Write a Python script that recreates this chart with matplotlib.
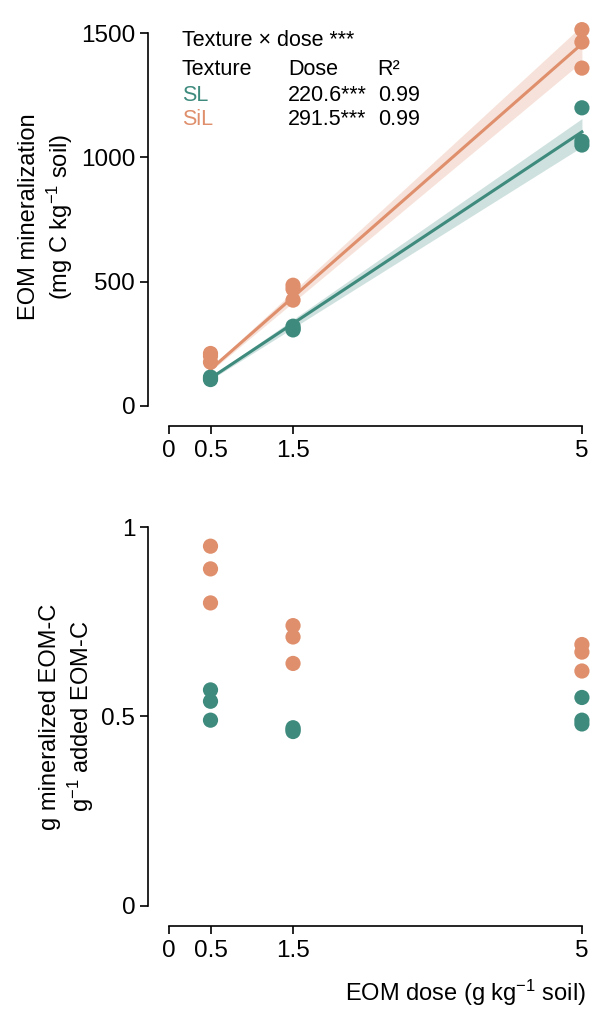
import numpy as np
import matplotlib.pyplot as plt

plt.rcParams['font.family'] = ['Liberation Sans', 'DejaVu Sans']
plt.rcParams['font.size'] = 15.5
plt.rcParams['mathtext.default'] = 'regular'

SL_COL = '#3e8b7e'
SIL_COL = '#df8f6c'

dose = [0.5, 0.5, 0.5, 1.5, 1.5, 1.5, 5, 5, 5]
min_sl = [110, 115, 105, 310, 320, 305, 1200, 1065, 1050]
min_sil = [210, 200, 175, 485, 470, 425, 1515, 1465, 1360]
eff_sl = [0.57, 0.54, 0.49, 0.47, 0.46, 0.465, 0.55, 0.49, 0.48]
eff_sil = [0.95, 0.89, 0.80, 0.74, 0.71, 0.64, 0.69, 0.67, 0.62]
slope_sl = 220.6
slope_sil = 291.5

fig = plt.figure(figsize=(5.98, 10.14), dpi=100)
ax1 = fig.add_axes([0.283, 0.60, 0.697, 0.372])
ax2 = fig.add_axes([0.283, 0.107, 0.697, 0.373])


def style(ax):
    for s in ['top', 'right']:
        ax.spines[s].set_visible(False)
    ax.spines['left'].set_position(('outward', 15))
    ax.spines['bottom'].set_position(('outward', 15))
    ax.set_xlim(0, 5.05)
    ax.spines['bottom'].set_bounds(0, 5)
    ax.set_xticks([0, 0.5, 1.5, 5])
    ax.set_xticklabels(['0', '0.5', '1.5', '5'])
    ax.tick_params(length=6, width=1.2, labelsize=17.5)
    for s in ['left', 'bottom']:
        ax.spines[s].set_linewidth(1.2)


x = np.array(dose, float)
xs = np.linspace(0.5, 5, 50)
for y, slope, c in [(min_sl, slope_sl, SL_COL), (min_sil, slope_sil, SIL_COL)]:
    y = np.array(y, float)
    b = (x @ y) / (x @ x)
    res = y - b * x
    se = np.sqrt(res @ res / (len(x) - 1) / (x @ x))
    ax1.fill_between(xs, (b - 2.4 * se) * xs, (b + 2.4 * se) * xs, color=c, alpha=0.25, lw=0)
    ax1.plot(xs, slope * xs, color=c, lw=2.2)
    ax1.scatter(x, y, s=120, color=c, zorder=3, edgecolor='none', clip_on=False)

style(ax1)
ax1.set_ylim(0, 1520)
ax1.spines['left'].set_bounds(0, 1500)
ax1.set_yticks([0, 500, 1000, 1500])
ax1.set_ylabel('EOM mineralization\n(mg C kg$^{-1}$ soil)', fontsize=17)

cols = [0.03, 0.285, 0.5]
ax1.text(cols[0], 0.995, 'Texture × dose ***', transform=ax1.transAxes, va='top')
rows = [('Texture', 'Dose', 'R²', 'black', 0.92),
        ('SL', '220.6***', '0.99', SL_COL, 0.85),
        ('SiL', '291.5***', '0.99', SIL_COL, 0.785)]
for a, b_, c_, col, yy in rows:
    ax1.text(cols[0], yy, a, transform=ax1.transAxes, va='top', color=col)
    ax1.text(cols[1], yy, b_, transform=ax1.transAxes, va='top')
    ax1.text(cols[2], yy, c_, transform=ax1.transAxes, va='top')

ax2.scatter(x, eff_sl, s=120, color=SL_COL, edgecolor='none', clip_on=False)
ax2.scatter(x, eff_sil, s=120, color=SIL_COL, edgecolor='none', clip_on=False)
style(ax2)
ax2.set_ylim(0, 1.0)
ax2.set_yticks([0, 0.5, 1])
ax2.set_yticklabels(['0', '0.5', '1'])
ax2.set_ylabel('g mineralized EOM-C\ng$^{-1}$ added EOM-C', fontsize=17)
ax2.set_xlabel('EOM dose (g kg$^{-1}$ soil)', loc='right', labelpad=12, fontsize=17)

fig.savefig('out.png', dpi=100)
